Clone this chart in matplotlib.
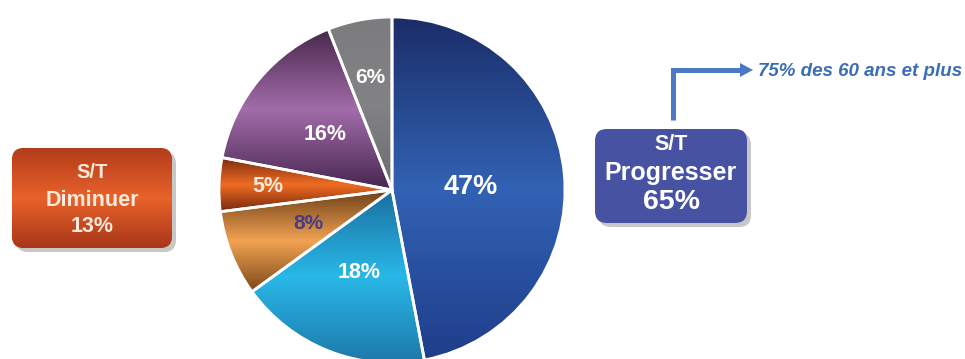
import numpy as np
import matplotlib
matplotlib.use("Agg")
import matplotlib.pyplot as plt
from matplotlib.patches import FancyBboxPatch, Polygon
from matplotlib.colors import LinearSegmentedColormap

# ---- data ----
values = [47, 18, 8, 5, 16, 6]
pct_labels = ["47%", "18%", "8%", "5%", "16%", "6%"]
left_box_lines = ["S/T", "Diminuer", "13%"]
right_box_lines = ["S/T", "Progresser", "65%"]
arrow_note = "75% des 60 ans et plus"

# ---- styles ----
grad_colors = [
    ("#1b2d68", "#3262b4", "#1f3d8a"),
    ("#1a6f9e", "#29b8e8", "#1d78a8"),
    ("#6e4018", "#f2a252", "#7a4818"),
    ("#7a2a10", "#ef6c22", "#74280f"),
    ("#48284c", "#a26caa", "#46264e"),
    ("#7c7c7e", "#838385", "#6c6c6e"),
]
label_colors = ["white", "white", "#4b3c82", "#fbe9dc", "white", "white"]
label_sizes = [19.5, 15.5, 15, 15.5, 15.5, 15]
label_r = [0.46, 0.51, 0.52, 0.72, 0.50, 0.66]
label_dy = [-0.025, 0, 0, 0, 0, 0]

W, H = 965, 359
fig = plt.figure(figsize=(W / 100, H / 100), dpi=100)
fig.patch.set_facecolor("white")
FONT = "Liberation Sans"

# pie axes: centre (392,190) px, radius 173 px
cx, cy, R = 392, 190, 173
ax = fig.add_axes([(cx - R) / W, (H - cy - R) / H, 2 * R / W, 2 * R / H])
wedges, _ = ax.pie(values, startangle=90, counterclock=False, radius=1,
                   wedgeprops=dict(edgecolor="white", linewidth=2))
ax.set_xlim(-1, 1)
ax.set_ylim(-1, 1)
ax.set_aspect("equal")
ax.axis("off")

for w, cols, lab, lc, ls, lr, ldy in zip(wedges, grad_colors, pct_labels,
                                          label_colors, label_sizes, label_r, label_dy):
    t1, t2 = w.theta1, w.theta2
    th = np.radians(np.linspace(t1, t2, 60))
    ys = np.concatenate([np.sin(th), [0]])
    y0, y1 = ys.min(), ys.max()
    w.set_facecolor(cols[1])
    cmap = LinearSegmentedColormap.from_list("g", [cols[2], cols[1], cols[0]])
    grad = np.linspace(0, 1, 256).reshape(-1, 1)
    im = ax.imshow(grad, cmap=cmap, extent=(-1, 1, y0, y1), origin="lower",
                   aspect="auto", zorder=1.5, interpolation="bicubic")
    im.set_clip_path(w)
    w.set_zorder(1)
    ax.add_patch(matplotlib.patches.Wedge((0, 0), 1, t1, t2, facecolor="none",
                                          edgecolor="white", linewidth=2, zorder=2))
    mid = np.radians((t1 + t2) / 2)
    ax.text(lr * np.cos(mid), lr * np.sin(mid) + ldy, lab, ha="center", va="center",
            color=lc, fontsize=ls, fontweight="bold", family=FONT, zorder=3)
ax.set_xlim(-1, 1)
ax.set_ylim(-1, 1)

# overlay axes in pixel coordinates
ov = fig.add_axes([0, 0, 1, 1], zorder=5)
ov.set_xlim(0, W)
ov.set_ylim(H, 0)
ov.axis("off")
ov.patch.set_alpha(0)


def gbox(x0, y0, x1, y1, cols, rs=12):
    sh = FancyBboxPatch((x0 + 4, y0 + 4), x1 - x0, y1 - y0,
                        boxstyle=f"round,pad=0,rounding_size={rs}",
                        facecolor="#9a9a9a", edgecolor="none", alpha=0.55, zorder=1)
    ov.add_patch(sh)
    b = FancyBboxPatch((x0, y0), x1 - x0, y1 - y0,
                       boxstyle=f"round,pad=0,rounding_size={rs}",
                       facecolor=cols[1], edgecolor="none", zorder=2)
    ov.add_patch(b)
    if cols[0] != cols[1] or cols[2] != cols[1]:
        cmap = LinearSegmentedColormap.from_list("b", [cols[0], cols[1], cols[2]])
        grad = np.linspace(0, 1, 256).reshape(-1, 1)
        im = ov.imshow(grad, cmap=cmap, extent=(x0, x1, y1, y0), origin="upper",
                       aspect="auto", zorder=2.5, interpolation="bicubic")
        im.set_clip_path(b)
    ov.set_xlim(0, W)
    ov.set_ylim(H, 0)


# left box
gbox(12, 148, 172, 248, ("#b23c1a", "#e8622a", "#a8361a"))
for txt, yy, fs in zip(left_box_lines, [173, 200, 227], [14.5, 15.5, 15.5]):
    ov.text(92, yy, txt, ha="center", va="center", color="#fbe9dc",
            fontsize=fs, fontweight="bold", family=FONT, zorder=4)

# right box
gbox(595, 129, 747, 223, ("#4752a3", "#4752a3", "#4752a3"))
for txt, yy, fs in zip(right_box_lines, [145, 173, 202], [15.5, 18, 20.5]):
    ov.text(671, yy, txt, ha="center", va="center", color="white",
            fontsize=fs, fontweight="bold", family=FONT, zorder=4)

# elbow arrow
acol = "#4b79c6"
ov.plot([673, 673, 742], [120, 70, 70], color=acol, lw=3.6,
        solid_joinstyle="miter", solid_capstyle="butt", zorder=3)
ov.add_patch(Polygon([[740, 63], [740, 77], [753, 70]], closed=True,
                     facecolor=acol, edgecolor="none", zorder=3))
ov.text(758, 72, arrow_note, ha="left", va="center", color="#3b6cb8",
        fontsize=13.5, fontweight="bold", fontstyle="italic", family=FONT, zorder=4)
ov.set_xlim(0, W)
ov.set_ylim(H, 0)

fig.savefig("out.png", dpi=100, facecolor="white")
